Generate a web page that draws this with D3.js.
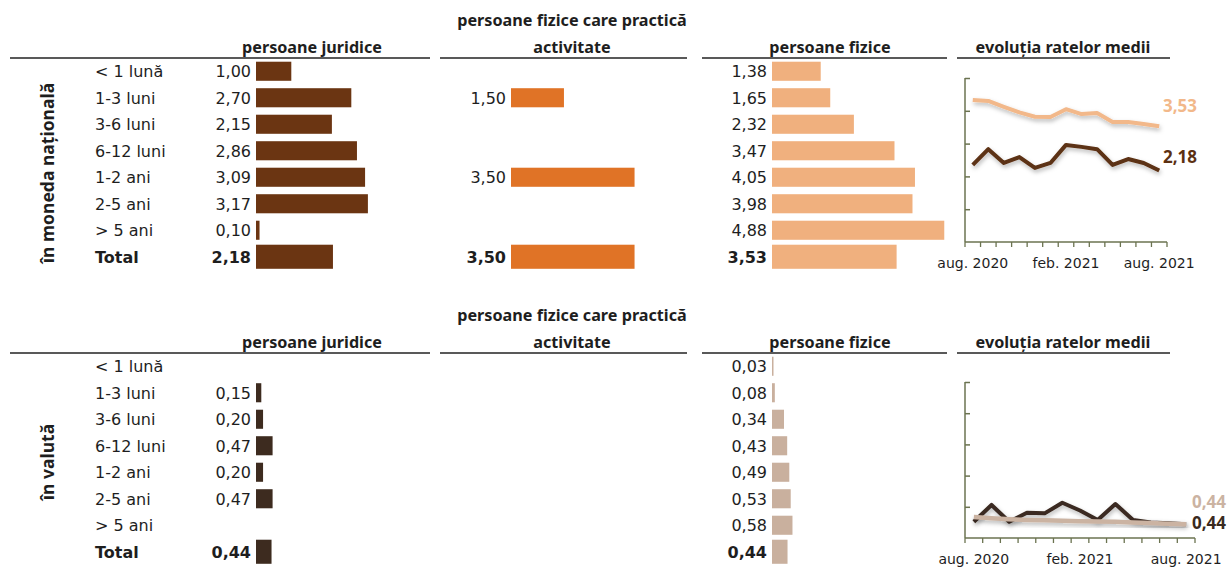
<!DOCTYPE html>
<html>
<head>
<meta charset="utf-8">
<script src="https://cdn.jsdelivr.net/npm/d3@7"></script>
<style>
  body { margin: 0; background: #fff; }
  svg text { font-family: "DejaVu Sans", "Noto Sans", sans-serif; fill: #1e1e1e; }
  svg text.hd { font-family: "Noto Sans", "Open Sans", sans-serif; }
</style>
</head>
<body>
<div id="chart"></div>
<script>
// rows of both tables
const categories = ['< 1 lună', '1-3 luni', '3-6 luni', '6-12 luni', '1-2 ani', '2-5 ani', '> 5 ani', 'Total'];

// ratele medii, în moneda națională
const mnJuridice = [1.00, 2.70, 2.15, 2.86, 3.09, 3.17, 0.10, 2.18];
const mnPfpa     = [null, 1.50, null, null, 3.50, null, null, 3.50];
const mnFizice   = [1.38, 1.65, 2.32, 3.47, 4.05, 3.98, 4.88, 3.53];

// în valută
const valJuridice = [null, 0.15, 0.20, 0.47, 0.20, 0.47, null, 0.44];
const valPfpa     = [null, null, null, null, null, null, null, null];
const valFizice   = [0.03, 0.08, 0.34, 0.43, 0.49, 0.53, 0.58, 0.44];

// evoluția ratelor medii
const months = ['aug. 2020', 'sep. 2020', 'oct. 2020', 'nov. 2020', 'dec. 2020', 'ian. 2021',
  'feb. 2021', 'mar. 2021', 'apr. 2021', 'mai 2021', 'iun. 2021', 'iul. 2021', 'aug. 2021'];
const monthLabels = ['aug. 2020', 'feb. 2021', 'aug. 2021'];
const evoMnJuridice  = [2.35, 2.83, 2.41, 2.59, 2.26, 2.41, 2.96, 2.90, 2.83, 2.35, 2.53, 2.41, 2.18];
const evoMnFizice    = [4.33, 4.30, 4.12, 3.95, 3.82, 3.81, 4.05, 3.90, 3.93, 3.66, 3.66, 3.60, 3.53];
const evoValJuridice = [0.52, 1.06, 0.52, 0.81, 0.79, 1.13, 0.88, 0.58, 1.09, 0.58, 0.50, 0.47, 0.44];
const evoValFizice   = [0.67, 0.63, 0.60, 0.58, 0.57, 0.55, 0.54, 0.53, 0.52, 0.50, 0.48, 0.46, 0.44];

const W = 1230, H = 569;
const svg = d3.select('#chart').append('svg')
  .attr('width', W).attr('height', H);

const defs = svg.append('defs');
defs.append('filter').attr('id', 'shadow')
  .attr('x', '-10%').attr('y', '-30%').attr('width', '130%').attr('height', '180%')
  .append('feDropShadow')
  .attr('dx', 1).attr('dy', 2.5).attr('stdDeviation', 2)
  .attr('flood-color', '#000').attr('flood-opacity', 0.28);

const fmt = v => d3.format('.2f')(v).replace('.', ',');
const xBar = d3.scaleLinear().domain([0, 5]).range([0, 176.5]);

function drawPanel(top, cfg) {
  const g = svg.append('g').attr('transform', `translate(0,${top})`);

  // header lines
  [[10, 430], [440, 687], [702, 947], [957, 1170]].forEach(([a, b]) => {
    g.append('line').attr('x1', a).attr('x2', b).attr('y1', 58).attr('y2', 58)
      .attr('stroke', '#222').attr('stroke-width', 1.3);
  });

  const head = (x, y, t) => g.append('text').attr('class', 'hd').attr('x', x).attr('y', y)
    .attr('text-anchor', 'middle').attr('font-size', 16.2).attr('font-weight', 'bold').text(t);
  head(312, 53, 'persoane juridice');
  head(572, 26, 'persoane fizice care practică');
  head(572, 53, 'activitate');
  head(830, 53, 'persoane fizice');
  head(1063, 53, 'evoluția ratelor medii');

  // side label
  g.append('text').attr('class', 'hd')
    .attr('transform', `translate(54,${cfg.sideY}) rotate(-90)`)
    .attr('text-anchor', 'middle').attr('font-size', 17.5).attr('font-weight', 'bold')
    .text(cfg.side);

  const y = d3.scaleBand().domain(categories).range([58, 270]).paddingInner(0.28).paddingOuter(0.14);
  const bh = c => c === 'Total' ? y.bandwidth() + 5 : y.bandwidth();
  const by = c => y(c) + y.bandwidth() / 2 - bh(c) / 2;

  g.selectAll('text.cat').data(categories).join('text')
    .attr('class', 'cat')
    .attr('x', 95).attr('y', c => y(c) + y.bandwidth() / 2 + 6)
    .attr('font-size', 16)
    .attr('font-weight', c => c === 'Total' ? 'bold' : 'normal')
    .text(c => c);

  cfg.series.forEach(s => {
    const rows = categories.map((c, i) => ({ c, v: s.values[i] })).filter(d => d.v != null);
    g.selectAll(null).data(rows).join('rect')
      .attr('x', s.x0).attr('y', d => by(d.c))
      .attr('width', d => Math.max(1.5, xBar(d.v))).attr('height', d => bh(d.c))
      .attr('fill', s.color);
    g.selectAll(null).data(rows).join('text')
      .attr('x', s.x0 - 5).attr('y', d => y(d.c) + y.bandwidth() / 2 + 6)
      .attr('text-anchor', 'end')
      .attr('font-size', 16)
      .attr('font-weight', d => d.c === 'Total' ? 'bold' : 'normal')
      .text(d => fmt(d.v));
  });

  // small line chart
  const lc = cfg.line;
  const xb = d3.scaleBand().domain(months).range([965, lc.right]);
  const xp = d3.scalePoint().domain(months).range([965, lc.right]).padding(0.5);
  const yl = d3.scaleLinear().domain([0, 5]).range([lc.bottom, lc.top]);
  const axisCol = '#6b7350';

  const yAxis = g.append('g').attr('transform', 'translate(965,0)')
    .call(d3.axisRight(yl).ticks(5).tickSize(5).tickFormat(''));
  yAxis.select('.domain').attr('stroke', axisCol).attr('stroke-width', 1.5).attr('d', `M0,${lc.top}V${lc.bottom}`);
  yAxis.selectAll('.tick line').attr('stroke', axisCol).attr('stroke-width', 1.5);
  yAxis.selectAll('.tick').filter(d => d === 0).remove();

  const bounds = months.map(m => xb(m)).concat([lc.right]);
  g.append('line').attr('x1', 965).attr('x2', lc.right).attr('y1', lc.bottom).attr('y2', lc.bottom)
    .attr('stroke', axisCol).attr('stroke-width', 1.5);
  g.selectAll(null).data(bounds).join('line')
    .attr('x1', d => d).attr('x2', d => d).attr('y1', lc.bottom).attr('y2', lc.bottom + 5)
    .attr('stroke', axisCol).attr('stroke-width', 1.3);
  g.selectAll(null).data(monthLabels).join('text')
    .attr('x', d => xp(d)).attr('y', lc.bottom + 26)
    .attr('text-anchor', 'middle').attr('font-size', 14).attr('fill', '#333')
    .text(d => d);

  const line = d3.line().x((d, i) => xp(months[i])).y(d => yl(d));
  lc.series.forEach(s => {
    g.append('path').datum(s.values)
      .attr('d', line).attr('fill', 'none')
      .attr('stroke', s.color).attr('stroke-width', s.width || 4)
      .attr('stroke-linejoin', 'round')
      .attr('filter', 'url(#shadow)');
    const last = s.values[s.values.length - 1];
    g.append('text').attr('class', 'hd')
      .attr('x', lc.right - 4 + lc.labelDx).attr('y', yl(last) + s.labelDy)
      .attr('font-size', 17).attr('font-weight', 'bold')
      .style('fill', s.color)
      .text(fmt(last));
  });
}

drawPanel(0, {
  side: 'în moneda națională', sideY: 173,
  series: [
    { values: mnJuridice, x0: 256, color: '#6b3512' },
    { values: mnPfpa, x0: 511, color: '#e07326' },
    { values: mnFizice, x0: 772, color: '#f0b07e' }
  ],
  line: {
    right: 1167, top: 78, bottom: 242, labelDx: 0,
    series: [
      { values: evoMnFizice, color: '#f2b88a', labelDy: -14 },
      { values: evoMnJuridice, color: '#5c3012', labelDy: -7 }
    ]
  }
});

drawPanel(295, {
  side: 'în valută', sideY: 167,
  series: [
    { values: valJuridice, x0: 256, color: '#3d2b1f' },
    { values: valPfpa, x0: 511, color: '#e07326' },
    { values: valFizice, x0: 772, color: '#c9b09e' }
  ],
  line: {
    right: 1195, top: 87, bottom: 243, labelDx: 1,
    series: [
      { values: evoValJuridice, color: '#3a2a20', labelDy: 5 },
      { values: evoValFizice, color: '#cbb3a2', labelDy: -16, width: 4.5 }
    ]
  }
});
</script>
</body>
</html>
